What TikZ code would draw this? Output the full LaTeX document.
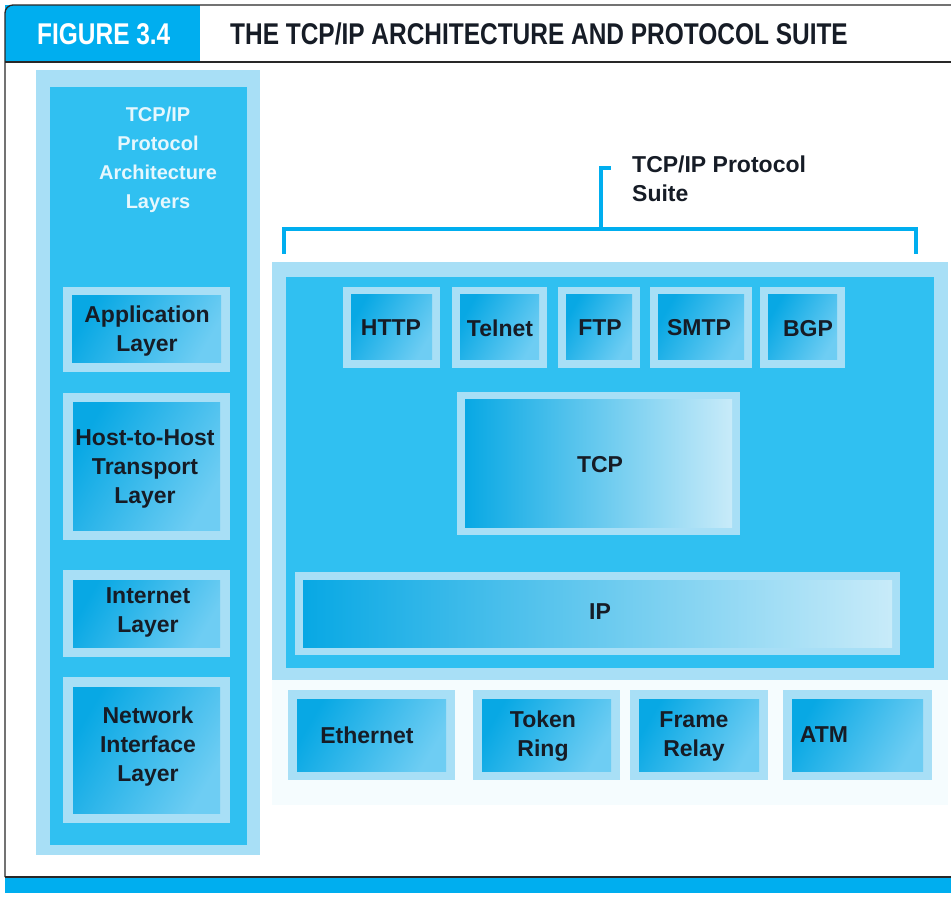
\documentclass[tikz,border=0pt]{standalone}
\usepackage{fontspec}
\setmainfont{Liberation Sans}
\newfontfamily\headfont[FakeStretch=0.815]{Liberation Sans}
\definecolor{cyanhead}{RGB}{0,174,239}
\definecolor{panel}{RGB}{48,192,241}
\definecolor{halo}{RGB}{168,223,246}
\definecolor{boxdark}{RGB}{8,168,228}
\definecolor{boxmid}{RGB}{110,205,243}
\definecolor{boxlight}{RGB}{200,235,249}
\definecolor{ink}{RGB}{22,28,38}
\definecolor{frame}{RGB}{40,40,40}
\begin{document}
\begin{tikzpicture}[x=1pt,y=-1pt,
  haloarea/.style={fill=halo},
  panelarea/.style={fill=panel},
  smallbox/.style={left color=boxdark, right color=boxmid, shading angle=60},
  widebox/.style={left color=boxdark, right color=boxlight},
  lab/.style={font=\bfseries\fontsize{23}{29}\selectfont, text=ink, align=center, inner sep=0pt},
  sidetitle/.style={font=\bfseries\fontsize{20}{29}\selectfont, text=white!88!panel, align=center, inner sep=0pt},
  headtext/.style={font=\headfont\bfseries\fontsize{30}{30}\selectfont, inner sep=0pt, anchor=base west},
  bracket/.style={draw=cyanhead, line width=4.5pt},
]
\useasboundingbox (0,0) rectangle (951,901);

% glowing framed box: light halo with a shaded face inside
\newcommand\glowbox[6]{%
  \fill[haloarea] (#1,#2) rectangle (#3,#4);
  \path[#6] (#1+#5,#2+#5) rectangle (#3-#5,#4-#5);}

% ---------- frame and header ----------
\fill[cyanhead] (5,5) rectangle (200,62);
\draw[frame, line width=1.3pt, rounded corners=8pt] (951,5) -- (5,5) -- (5,877);
\draw[frame, line width=1.3pt] (5,62) -- (951,62);
\fill[cyanhead] (5,877) rectangle (951,893);
\draw[frame, line width=1.3pt] (5,877) -- (951,877);
\node[headtext, text=white] (fig) at (37,45) {FIGURE 3.4};
\node[headtext, text=ink] (title) at (230,45) {THE TCP/IP ARCHITECTURE AND PROTOCOL SUITE};

% ---------- left column: architecture layers ----------
\fill[haloarea] (36,70) rectangle (260,855);
\fill[panelarea] (50,87) rectangle (247,845);
\node[sidetitle] (arch) at (158,160) {TCP/IP\\Protocol\\Architecture\\Layers};

\glowbox{63}{287}{230}{372}{9}{smallbox}
\node[lab] (app) at (147,331) {Application\\Layer};
\glowbox{63}{393}{230}{540}{10}{smallbox}
\node[lab] (host) at (145,469) {Host-to-Host\\Transport\\Layer};
\glowbox{63}{570}{230}{657}{10}{smallbox}
\node[lab] (inet) at (148,612) {Internet\\Layer};
\glowbox{63}{677}{230}{823}{10}{smallbox}
\node[lab] (netif) at (148,747) {Network\\Interface\\Layer};

% ---------- protocol suite bracket ----------
\coordinate (bl) at (284,254);
\coordinate (bltop) at (284,229);
\coordinate (brtop) at (916,229);
\coordinate (br) at (916,254);
\coordinate (stemfoot) at (601,229);
\coordinate (stemtop) at (601,168);
\coordinate (tick) at (611,168);
\draw[bracket] (bl) -- (bltop) -- (brtop) -- (br);
\draw[bracket] (stemfoot) -- (stemtop) -- (tick);
\node[lab, align=left, anchor=north west] (suite) at (632,156) {TCP/IP Protocol\\Suite};

% ---------- protocol suite panel ----------
\fill[cyan!4] (272,680) rectangle (948,805);
\fill[haloarea] (272,262) rectangle (948,680);
\fill[panelarea] (286,277) rectangle (934,668);

\glowbox{343}{287}{440}{368}{8}{smallbox}
\node[lab] (http) at (391,328) {HTTP};
\glowbox{452}{287}{547}{368}{8}{smallbox}
\node[lab] (telnet) at (500,328) {Telnet};
\glowbox{558}{287}{640}{368}{8}{smallbox}
\node[lab] (ftp) at (600,328) {FTP};
\glowbox{650}{287}{752}{368}{8}{smallbox}
\node[lab] (smtp) at (699,328) {SMTP};
\glowbox{760}{287}{845}{368}{8}{smallbox}
\node[lab] (bgp) at (808,329) {BGP};

\glowbox{457}{392}{740}{535}{8}{widebox}
\node[lab] (tcp) at (600,465) {TCP};
\glowbox{295}{572}{900}{655}{8}{widebox}
\node[lab] (ip) at (600,612) {IP};

% ---------- network access technologies ----------
\glowbox{288}{690}{455}{780}{9}{smallbox}
\node[lab] (eth) at (367,735) {Ethernet};
\glowbox{473}{690}{620}{780}{9}{smallbox}
\node[lab] (token) at (543,736) {Token\\Ring};
\glowbox{630}{690}{768}{780}{9}{smallbox}
\node[lab] (frame) at (694,736) {Frame\\Relay};
\glowbox{783}{690}{932}{780}{9}{smallbox}
\node[lab] (atm) at (824,735) {ATM};
\end{tikzpicture}
\end{document}
